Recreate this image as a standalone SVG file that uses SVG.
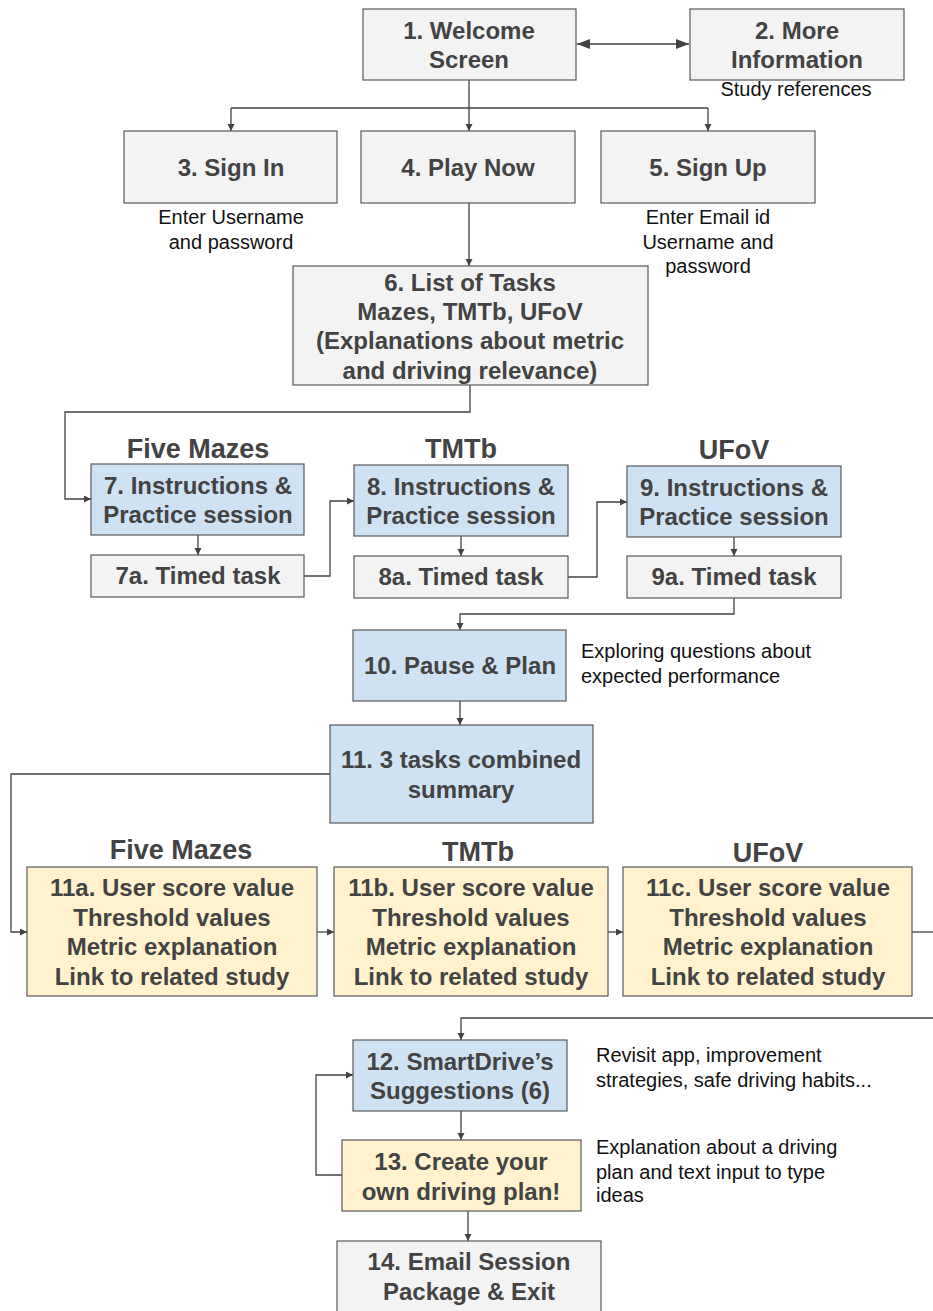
<svg xmlns="http://www.w3.org/2000/svg" width="933" height="1311" viewBox="0 0 933 1311">
  <style>
    .box { stroke: #595959; stroke-width: 1.2; }
    .grey { fill: #f3f3f3; }
    .blue { fill: #cfe2f3; }
    .yellow { fill: #fff2cc; }
    .lbl { font-family: "Liberation Sans", Arial, sans-serif; font-weight: bold; font-size: 24px; fill: #434343; text-anchor: middle; }
    .head { font-family: "Liberation Sans", Arial, sans-serif; font-weight: bold; font-size: 27px; fill: #434343; text-anchor: middle; }
    .note { font-family: "Liberation Sans", Arial, sans-serif; font-size: 20px; fill: #111111; }
    .mid { text-anchor: middle; }
    .wire { fill: none; stroke: #434343; stroke-width: 1.3; }
  </style>
  <defs>
    <marker id="arr" markerUnits="userSpaceOnUse" markerWidth="8" markerHeight="8" refX="7" refY="3.5" orient="auto">
      <path d="M0,0 L7,3.5 L0,7 z" fill="#434343"/>
    </marker>
    <marker id="arrBig" markerUnits="userSpaceOnUse" markerWidth="14" markerHeight="12" refX="13" refY="5" orient="auto-start-reverse">
      <path d="M0,0 L13,5 L0,10 z" fill="#434343"/>
    </marker>
  </defs>

  <rect width="933" height="1311" fill="#ffffff"/>

  <!-- connectors -->
  <g id="connectors">
    <line class="wire" x1="577" y1="44" x2="689" y2="44" marker-start="url(#arrBig)" marker-end="url(#arrBig)"/>
    <path class="wire" d="M469,80 V108"/>
    <path class="wire" d="M231,108 H708"/>
    <path class="wire" d="M231,108 V131" marker-end="url(#arr)"/>
    <path class="wire" d="M469,108 V131" marker-end="url(#arr)"/>
    <path class="wire" d="M708,108 V131" marker-end="url(#arr)"/>
    <path class="wire" d="M469,203 V266" marker-end="url(#arr)"/>
    <path class="wire" d="M470,385 V412 H65 V499 H91" marker-end="url(#arr)"/>
    <path class="wire" d="M198,535 V555" marker-end="url(#arr)"/>
    <path class="wire" d="M461,536 V556" marker-end="url(#arr)"/>
    <path class="wire" d="M734,537 V556" marker-end="url(#arr)"/>
    <path class="wire" d="M304,576 H330 V501 H354" marker-end="url(#arr)"/>
    <path class="wire" d="M568,577 H597 V502 H627" marker-end="url(#arr)"/>
    <path class="wire" d="M734,598 V614 H460 V630" marker-end="url(#arr)"/>
    <path class="wire" d="M460,701 V725" marker-end="url(#arr)"/>
    <path class="wire" d="M330,774 H11 V932 H27" marker-end="url(#arr)"/>
    <path class="wire" d="M317,932 H334" marker-end="url(#arr)"/>
    <path class="wire" d="M608,932 H623" marker-end="url(#arr)"/>
    <path class="wire" d="M912,932 H933"/>
    <path class="wire" d="M933,1018 H461 V1040" marker-end="url(#arr)"/>
    <path class="wire" d="M461,1111 V1140" marker-end="url(#arr)"/>
    <path class="wire" d="M342,1175 H316 V1075 H353" marker-end="url(#arr)"/>
    <path class="wire" d="M468,1211 V1241" marker-end="url(#arr)"/>
  </g>

  <!-- nodes -->
  <g id="n1">
    <rect class="box grey" x="363" y="9" width="213" height="71"/>
    <text class="lbl" x="469" y="39">1. Welcome</text>
    <text class="lbl" x="469" y="68">Screen</text>
  </g>
  <g id="n2">
    <rect class="box grey" x="690" y="9" width="214" height="71"/>
    <text class="lbl" x="797" y="39">2. More</text>
    <text class="lbl" x="797" y="68">Information</text>
    <text class="note mid" x="796" y="96">Study references</text>
  </g>
  <g id="n3">
    <rect class="box grey" x="124" y="131" width="213" height="72"/>
    <text class="lbl" x="231" y="176">3. Sign In</text>
    <text class="note mid" x="231" y="224">Enter Username</text>
    <text class="note mid" x="231" y="249">and password</text>
  </g>
  <g id="n4">
    <rect class="box grey" x="361" y="131" width="214" height="72"/>
    <text class="lbl" x="468" y="176">4. Play Now</text>
  </g>
  <g id="n5">
    <rect class="box grey" x="601" y="131" width="214" height="72"/>
    <text class="lbl" x="708" y="176">5. Sign Up</text>
    <text class="note mid" x="708" y="224">Enter Email id</text>
    <text class="note mid" x="708" y="249">Username and</text>
    <text class="note mid" x="708" y="273">password</text>
  </g>
  <g id="n6">
    <rect class="box grey" x="293" y="266" width="355" height="119"/>
    <text class="lbl" x="470" y="291">6. List of Tasks</text>
    <text class="lbl" x="470" y="320">Mazes, TMTb, UFoV</text>
    <text class="lbl" x="470" y="349">(Explanations about metric</text>
    <text class="lbl" x="470" y="379">and driving relevance)</text>
  </g>

  <g id="h-tasks">
    <text class="head" x="198" y="458">Five Mazes</text>
    <text class="head" x="461" y="458">TMTb</text>
    <text class="head" x="734" y="459">UFoV</text>
  </g>
  <g id="n7">
    <rect class="box blue" x="91" y="464" width="213" height="71"/>
    <text class="lbl" x="198" y="494">7. Instructions &amp;</text>
    <text class="lbl" x="198" y="523">Practice session</text>
  </g>
  <g id="n7a">
    <rect class="box grey" x="91" y="555" width="213" height="42"/>
    <text class="lbl" x="198" y="584">7a. Timed task</text>
  </g>
  <g id="n8">
    <rect class="box blue" x="354" y="465" width="214" height="71"/>
    <text class="lbl" x="461" y="495">8. Instructions &amp;</text>
    <text class="lbl" x="461" y="524">Practice session</text>
  </g>
  <g id="n8a">
    <rect class="box grey" x="354" y="556" width="214" height="42"/>
    <text class="lbl" x="461" y="585">8a. Timed task</text>
  </g>
  <g id="n9">
    <rect class="box blue" x="627" y="466" width="214" height="71"/>
    <text class="lbl" x="734" y="496">9. Instructions &amp;</text>
    <text class="lbl" x="734" y="525">Practice session</text>
  </g>
  <g id="n9a">
    <rect class="box grey" x="627" y="556" width="214" height="42"/>
    <text class="lbl" x="734" y="585">9a. Timed task</text>
  </g>

  <g id="n10">
    <rect class="box blue" x="353" y="630" width="213" height="71"/>
    <text class="lbl" x="460" y="674">10. Pause &amp; Plan</text>
    <text class="note" x="581" y="658">Exploring questions about</text>
    <text class="note" x="581" y="683">expected performance</text>
  </g>
  <g id="n11">
    <rect class="box blue" x="330" y="725" width="263" height="98"/>
    <text class="lbl" x="461" y="768">11. 3 tasks combined</text>
    <text class="lbl" x="461" y="798">summary</text>
  </g>

  <g id="h-results">
    <text class="head" x="181" y="859">Five Mazes</text>
    <text class="head" x="478" y="861">TMTb</text>
    <text class="head" x="768" y="862">UFoV</text>
  </g>
  <g id="n11a">
    <rect class="box yellow" x="27" y="867" width="290" height="129"/>
    <text class="lbl" x="172" y="896">11a. User score value</text>
    <text class="lbl" x="172" y="926">Threshold values</text>
    <text class="lbl" x="172" y="955">Metric explanation</text>
    <text class="lbl" x="172" y="985">Link to related study</text>
  </g>
  <g id="n11b">
    <rect class="box yellow" x="334" y="867" width="274" height="129"/>
    <text class="lbl" x="471" y="896">11b. User score value</text>
    <text class="lbl" x="471" y="926">Threshold values</text>
    <text class="lbl" x="471" y="955">Metric explanation</text>
    <text class="lbl" x="471" y="985">Link to related study</text>
  </g>
  <g id="n11c">
    <rect class="box yellow" x="623" y="867" width="289" height="129"/>
    <text class="lbl" x="768" y="896">11c. User score value</text>
    <text class="lbl" x="768" y="926">Threshold values</text>
    <text class="lbl" x="768" y="955">Metric explanation</text>
    <text class="lbl" x="768" y="985">Link to related study</text>
  </g>

  <g id="n12">
    <rect class="box blue" x="353" y="1040" width="214" height="71"/>
    <text class="lbl" x="460" y="1070">12. SmartDrive’s</text>
    <text class="lbl" x="460" y="1099">Suggestions (6)</text>
    <text class="note" x="596" y="1062">Revisit app, improvement</text>
    <text class="note" x="596" y="1087">strategies, safe driving habits...</text>
  </g>
  <g id="n13">
    <rect class="box yellow" x="342" y="1140" width="239" height="71"/>
    <text class="lbl" x="461" y="1170">13. Create your</text>
    <text class="lbl" x="461" y="1200">own driving plan!</text>
    <text class="note" x="596" y="1154">Explanation about a driving</text>
    <text class="note" x="596" y="1179">plan and text input to type</text>
    <text class="note" x="596" y="1202">ideas</text>
  </g>
  <g id="n14">
    <rect class="box grey" x="337" y="1241" width="264" height="80"/>
    <text class="lbl" x="469" y="1270">14. Email Session</text>
    <text class="lbl" x="469" y="1300">Package &amp; Exit</text>
  </g>
</svg>
